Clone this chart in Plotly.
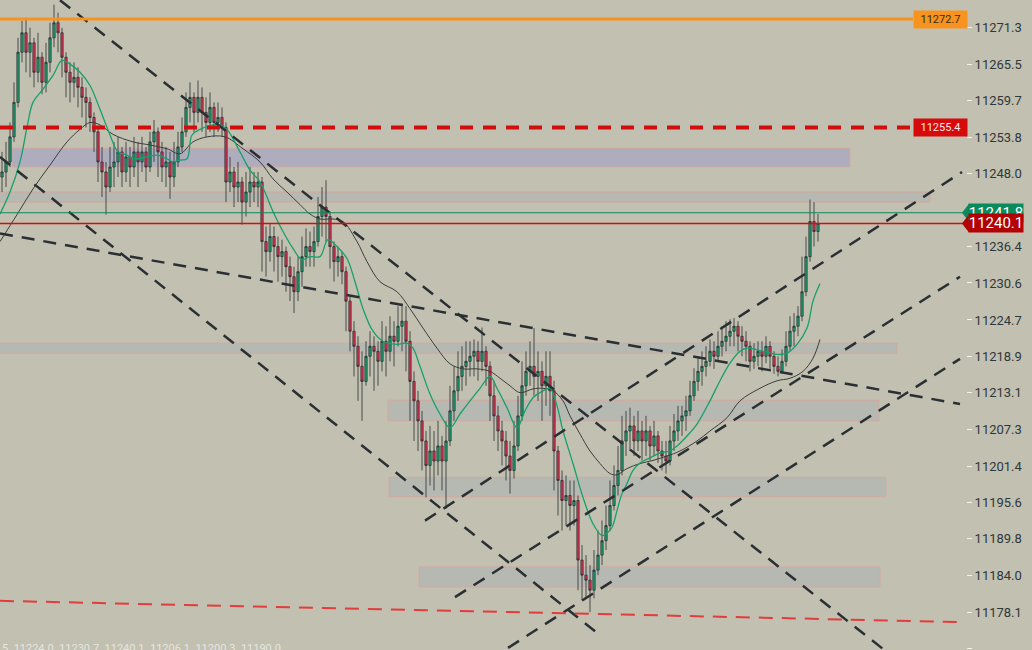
import plotly.graph_objects as go

# ---------------- data ----------------
close = [11248.3, 11249.9, 11253.9, 11259.4, 11267.4, 11270.5, 11267.4, 11268.9, 11264.2, 11266.6,
         11262.6, 11265.8, 11269.7, 11272.1, 11270.5, 11266.6, 11264.2, 11262.6, 11263.4, 11261.8,
         11260.2, 11259.4, 11257.0, 11254.7, 11249.9, 11248.3, 11245.9, 11249.1, 11249.9, 11251.5,
         11248.3, 11250.7, 11249.1, 11251.5, 11249.9, 11251.5, 11249.1, 11253.1, 11254.7, 11251.5,
         11249.1, 11249.9, 11247.5, 11249.9, 11252.3, 11254.7, 11258.6, 11260.2, 11257.8, 11260.2,
         11257.8, 11256.2, 11258.6, 11256.2, 11257.0, 11255.4, 11246.7, 11248.3, 11245.9, 11246.7,
         11243.5, 11245.1, 11246.7, 11245.9, 11246.7, 11237.2, 11235.6, 11238.0, 11236.4, 11234.8,
         11235.6, 11233.2, 11231.6, 11229.2, 11232.4, 11234.8, 11236.4, 11235.6, 11237.2, 11241.2,
         11242.7, 11241.2, 11236.4, 11234.0, 11234.8, 11232.4, 11227.7, 11222.9, 11220.5, 11217.3,
         11214.9, 11218.9, 11220.5, 11219.7, 11218.1, 11221.3, 11219.7, 11222.1, 11221.3, 11223.7,
         11224.5, 11221.3, 11214.9, 11211.8, 11208.6, 11205.4, 11201.5, 11203.8, 11202.2, 11204.6,
         11202.2, 11205.4, 11210.2, 11213.4, 11215.7, 11217.3, 11218.1, 11218.9, 11219.7, 11218.1,
         11219.7, 11217.3, 11212.6, 11209.4, 11207.0, 11205.4, 11203.0, 11200.7, 11204.6, 11209.4,
         11214.2, 11216.5, 11217.3, 11215.7, 11216.5, 11214.2, 11215.7, 11213.4, 11203.8, 11199.1,
         11195.9, 11196.7, 11195.1, 11195.9, 11186.4, 11184.0, 11183.2, 11181.6, 11184.8, 11187.2,
         11189.5, 11191.9, 11195.1, 11198.3, 11200.7, 11205.4, 11207.0, 11207.8, 11205.4, 11207.0,
         11205.4, 11207.0, 11204.6, 11206.2, 11203.8, 11203.0, 11202.2, 11205.4, 11207.0, 11208.6,
         11209.4, 11210.2, 11212.6, 11214.9, 11216.5, 11217.3, 11218.1, 11219.7, 11218.9, 11220.5,
         11221.3, 11222.1, 11222.9, 11223.7, 11222.1, 11221.3, 11220.5, 11218.1, 11218.9, 11219.7,
         11218.9, 11220.5, 11218.9, 11217.3, 11216.5, 11218.1, 11220.5, 11222.9, 11223.7, 11225.3,
         11229.2, 11234.8, 11240.4, 11238.8, 11240.1]

high = [11251.5, 11253.1, 11256.2, 11262.6, 11269.7, 11272.4, 11272.9, 11271.3, 11269.7, 11270.5,
        11267.4, 11268.9, 11272.1, 11275.0, 11273.7, 11271.3, 11267.4, 11265.8, 11265.8, 11265.0,
        11263.4, 11261.8, 11260.2, 11257.8, 11255.4, 11252.3, 11249.9, 11252.3, 11253.1, 11253.9,
        11252.3, 11253.1, 11252.3, 11253.9, 11253.1, 11253.9, 11252.3, 11254.7, 11256.6, 11255.4,
        11253.1, 11252.3, 11251.5, 11253.1, 11254.7, 11257.0, 11261.0, 11262.6, 11261.0, 11262.9,
        11261.8, 11260.2, 11261.0, 11259.4, 11259.4, 11258.6, 11256.2, 11250.7, 11249.1, 11249.9,
        11247.5, 11248.3, 11249.1, 11248.3, 11248.3, 11247.5, 11239.6, 11240.0, 11239.6, 11238.0,
        11237.5, 11236.4, 11234.8, 11233.2, 11234.8, 11238.0, 11239.3, 11238.8, 11239.6, 11244.3,
        11245.9, 11247.0, 11242.0, 11237.2, 11236.4, 11235.6, 11233.2, 11228.5, 11224.5, 11222.1,
        11219.7, 11221.3, 11222.9, 11222.1, 11221.3, 11224.5, 11223.7, 11225.3, 11224.5, 11226.9,
        11227.3, 11226.9, 11222.9, 11216.5, 11213.4, 11210.2, 11207.0, 11207.8, 11207.0, 11208.6,
        11206.2, 11208.6, 11214.2, 11217.3, 11219.7, 11220.5, 11221.3, 11221.3, 11221.6, 11221.3,
        11223.5, 11220.5, 11218.1, 11215.0, 11211.0, 11208.6, 11207.0, 11205.4, 11208.6, 11212.6,
        11218.1, 11219.7, 11221.3, 11223.4, 11219.7, 11218.1, 11219.7, 11219.7, 11215.0, 11204.6,
        11200.7, 11199.9, 11199.1, 11199.1, 11196.7, 11188.8, 11187.2, 11185.6, 11188.0, 11191.1,
        11192.7, 11195.1, 11199.1, 11201.5, 11204.6, 11209.4, 11210.2, 11210.7, 11209.4, 11210.2,
        11208.6, 11209.4, 11207.8, 11208.6, 11207.0, 11205.4, 11205.4, 11207.8, 11209.7, 11211.0,
        11211.0, 11212.6, 11215.0, 11217.0, 11218.9, 11219.7, 11220.5, 11221.6, 11221.3, 11222.9,
        11223.7, 11224.5, 11224.8, 11225.0, 11224.5, 11223.7, 11222.9, 11221.3, 11221.0, 11221.3,
        11221.3, 11222.1, 11221.3, 11219.7, 11218.9, 11220.0, 11222.9, 11225.3, 11225.8, 11226.9,
        11234.8, 11238.0, 11243.9, 11243.5, 11241.6]

low = [11245.1, 11245.9, 11249.1, 11253.1, 11258.6, 11265.8, 11264.2, 11263.4, 11261.8, 11262.6,
       11260.7, 11261.0, 11264.2, 11268.2, 11267.4, 11263.4, 11260.2, 11259.4, 11260.2, 11258.6,
       11257.0, 11255.4, 11254.7, 11251.5, 11246.7, 11244.3, 11241.5, 11245.1, 11245.9, 11247.5,
       11245.9, 11246.7, 11245.9, 11247.5, 11245.9, 11248.3, 11246.7, 11248.3, 11249.9, 11247.5,
       11246.7, 11245.9, 11244.0, 11245.9, 11249.1, 11251.5, 11253.9, 11256.2, 11254.7, 11256.2,
       11254.7, 11253.9, 11254.7, 11253.9, 11254.7, 11253.9, 11243.5, 11245.1, 11242.7, 11243.5,
       11239.9, 11241.2, 11242.7, 11243.5, 11242.7, 11232.4, 11231.6, 11234.0, 11232.4, 11230.8,
       11231.6, 11229.2, 11227.7, 11225.8, 11227.7, 11230.0, 11233.2, 11233.2, 11233.2, 11236.4,
       11238.0, 11237.2, 11232.9, 11230.8, 11231.6, 11230.4, 11222.9, 11219.7, 11215.7, 11211.8,
       11208.6, 11214.2, 11215.7, 11213.4, 11214.2, 11216.5, 11215.7, 11218.1, 11217.3, 11220.5,
       11219.7, 11216.5, 11208.6, 11205.4, 11203.8, 11200.7, 11196.4, 11198.3, 11197.5, 11199.9,
       11197.5, 11194.6, 11204.6, 11208.6, 11211.8, 11213.4, 11214.2, 11215.7, 11215.7, 11215.0,
       11216.5, 11214.2, 11208.6, 11205.4, 11203.8, 11201.5, 11199.1, 11197.0, 11199.4, 11203.8,
       11208.6, 11212.6, 11214.2, 11212.6, 11211.8, 11208.6, 11211.0, 11209.4, 11197.5, 11193.5,
       11191.1, 11191.9, 11191.1, 11191.9, 11181.6, 11180.0, 11180.3, 11178.1, 11180.3, 11184.0,
       11185.6, 11188.0, 11191.1, 11194.3, 11196.7, 11199.9, 11203.0, 11203.8, 11203.0, 11203.8,
       11202.3, 11203.0, 11202.3, 11203.0, 11201.9, 11200.7, 11200.2, 11201.5, 11203.8, 11205.4,
       11206.2, 11207.0, 11209.4, 11211.8, 11213.4, 11214.2, 11215.7, 11217.3, 11216.9, 11218.1,
       11218.9, 11219.7, 11220.5, 11220.5, 11219.7, 11218.9, 11218.1, 11216.5, 11216.9, 11217.3,
       11216.5, 11217.8, 11216.9, 11216.1, 11215.7, 11216.2, 11217.3, 11219.7, 11220.5, 11222.1,
       11224.5, 11228.5, 11234.0, 11236.4, 11237.2]

first_open = 11247.5
open_ = [first_open] + close[:-1]
assert len(close) == len(high) == len(low) == 205
bars = list(range(len(close)))

# fast moving average (green)
ma_fast_x = [-0.5, 2, 4.5, 6.25, 7.75, 10.25, 12.75, 15, 17, 19.5, 22, 24.5, 27, 29, 31.25, 32.75, 36.25,
             38.75, 41.25, 42.75, 44.5, 46.25, 47.5, 49.5, 52.75, 54.5, 56.25, 59.5, 62, 64.5, 67.75,
             70.25, 72.75, 75, 77, 79.5, 81.5, 83.75, 86.25, 88.25, 90.25, 92.75, 95.25, 98.75, 101.25,
             102.75, 104.5, 107, 109.5, 112, 114.5, 117, 119.5, 122, 123.75, 126.25, 128.75, 130.75,
             132.75, 135.25, 137, 138.75, 140.25, 142.75, 145.25, 147.75, 150, 151.25, 152.5, 153.75,
             155, 156.25, 157.75, 159.5, 162, 164.5, 167, 168.75, 171.25, 173.75, 177, 179.5, 182,
             184.5, 186.25, 190.25, 193.75, 196.25, 198.75, 201.25, 202.75, 204.5]
ma_fast_y = [11241.6, 11245.1, 11249.9, 11255.4, 11259.4, 11261.5, 11263.7, 11266.1, 11265.5, 11264.2,
             11262.1, 11258.3, 11254.2, 11251.5, 11251.0, 11250.4, 11250.7, 11251.0, 11250.4, 11249.9,
             11250.2, 11250.4, 11254.2, 11255.1, 11255.8, 11255.8, 11255.1, 11251.5, 11248.6, 11246.7,
             11242.0, 11238.8, 11236.1, 11234.3, 11234.8, 11234.8, 11237.5, 11236.4, 11234.5, 11230.8,
             11226.5, 11222.9, 11221.3, 11220.8, 11221.0, 11220.2, 11217.3, 11212.9, 11209.7, 11207.5,
             11209.7, 11211.8, 11213.8, 11215.7, 11213.8, 11210.7, 11207.5, 11210.2, 11212.3, 11213.4,
             11213.8, 11211.0, 11207.0, 11201.8, 11196.4, 11192.2, 11190.3, 11190.7, 11191.6, 11194.3,
             11197.0, 11198.6, 11200.7, 11201.9, 11202.7, 11203.5, 11203.8, 11204.6, 11206.2, 11208.1,
             11211.8, 11215.0, 11217.8, 11219.7, 11220.2, 11219.7, 11219.2, 11219.4, 11220.8, 11223.4,
             11227.7, 11230.5]

# slow moving average (dark)
ma_slow_x = [-0.5, 3.75, 7.75, 12, 16.25, 19.5, 22, 24.5, 27.75, 32.75, 37, 41.25, 44.5, 47.75, 51.25,
             55.75, 60.25, 64.5, 67.75, 71.25, 74.5, 77, 79.5, 82.75, 85.25, 88.75, 91.25, 94.5, 98.75,
             102, 105.25, 108.75, 112, 115.25, 118.75, 122, 124.5, 127, 129.5, 132.75, 135.25, 137.75,
             140.25, 142, 144.5, 147, 149.5, 152, 153.75, 156.25, 159.5, 162.75, 166.25, 169.5, 173.75,
             177, 181.25, 184.5, 189.5, 193.75, 197, 200.25, 202.75, 204.5]
ma_slow_y = [11237.2, 11241.5, 11245.6, 11249.4, 11253.1, 11255.1, 11256.2, 11255.8, 11254.3, 11253.1,
             11252.6, 11252.0, 11251.2, 11253.1, 11253.9, 11253.9, 11252.0, 11249.9, 11247.2, 11245.1,
             11243.1, 11241.6, 11240.8, 11240.8, 11240.4, 11237.2, 11234.0, 11230.8, 11229.2, 11226.5,
             11223.4, 11220.2, 11217.7, 11216.9, 11216.9, 11216.5, 11215.4, 11214.2, 11213.1, 11213.7,
             11213.8, 11213.4, 11211.8, 11209.4, 11206.5, 11203.8, 11201.8, 11200.2, 11200.0, 11201.0,
             11201.8, 11202.3, 11203.0, 11203.8, 11205.4, 11207.0, 11209.1, 11211.8, 11213.8, 11215.0,
             11215.4, 11216.5, 11218.6, 11221.6]

# trend lines (bar index / price endpoints)
trend_x0 = [14.5, -0.5, -0.5, 105.75, 113.25, 126.5]
trend_y0 = [11275.7, 11250.7, 11238.5, 11192.7, 11180.5, 11172.4]
trend_x1 = [220.5, 148.75, 239.5, 240.0, 239.5, 239.5]
trend_y1 = [11172.1, 11174.8, 11211.3, 11248.3, 11231.6, 11218.5]

support_x = [-0.5, 240.75]
support_y = [11179.9, 11176.5]

# zones
zone_x0 = [2.5, -1, -1, 96.5, 96.75, 104.25]
zone_x1 = [212, 232, 223.75, 219.25, 221, 219.5]
zone_top = [11252.1, 11245.1, 11221.0, 11211.9, 11199.6, 11185.3]
zone_bot = [11249.1, 11243.5, 11219.4, 11208.6, 11196.5, 11182.1]
zone_fill = ['#aeadbe', '#b6b9b2', '#b6b9b2', '#b6b9b2', '#b6b9b2', '#b6b9b2']

# levels
level_orange = 11272.7
level_red = 11255.4
last_green = 11241.8
last_red = 11240.1
level_end = 227.75

tick_vals = [11271.3, 11265.5, 11259.7, 11253.8, 11248.0, 11242.2, 11236.4, 11230.6, 11224.7,
             11218.9, 11213.1, 11207.3, 11201.4, 11195.6, 11189.8, 11184.0, 11178.1, 11172.3]
tick_text = ['%.1f' % v for v in tick_vals]

info_text = "5  11224.0  11230.7  11240.1  11206.1  11200.3  11190.0"

BG = '#c2c0b0'
DARK = '#2a2f34'

fig = go.Figure()

fig.add_trace(go.Candlestick(
    x=bars, open=open_, high=high, low=low, close=close,
    increasing=dict(line=dict(color=DARK, width=0.8), fillcolor='#17a86e'),
    decreasing=dict(line=dict(color=DARK, width=0.8), fillcolor='#ec2f4c'),
    whiskerwidth=0, showlegend=False, hoverinfo='skip'))

fig.add_trace(go.Scatter(x=ma_slow_x, y=ma_slow_y, mode='lines',
                         line=dict(color='#3b3d3d', width=1, shape='spline'),
                         showlegend=False, hoverinfo='skip'))
fig.add_trace(go.Scatter(x=ma_fast_x, y=ma_fast_y, mode='lines',
                         line=dict(color='#16a06a', width=1.3, shape='spline'),
                         showlegend=False, hoverinfo='skip'))

for x0, y0, x1, y1 in zip(trend_x0, trend_y0, trend_x1, trend_y1):
    fig.add_trace(go.Scatter(x=[x0, x1], y=[y0, y1], mode='lines',
                             line=dict(color=DARK, width=2.5, dash='13px,9px'),
                             showlegend=False, hoverinfo='skip'))

fig.add_trace(go.Scatter(x=support_x, y=support_y, mode='lines',
                         line=dict(color='#e23c3c', width=2, dash='14px,9px'),
                         showlegend=False, hoverinfo='skip'))

# horizontal levels
fig.add_trace(go.Scatter(x=[-0.5, level_end], y=[level_orange, level_orange], mode='lines',
                         line=dict(color='#f7921c', width=3), showlegend=False, hoverinfo='skip'))
fig.add_trace(go.Scatter(x=[-0.5, level_end], y=[level_red, level_red], mode='lines',
                         line=dict(color='#d20d0d', width=4, dash='13px,10px'),
                         showlegend=False, hoverinfo='skip'))
fig.add_trace(go.Scatter(x=[-0.5, 241], y=[last_green, last_green], mode='lines',
                         line=dict(color='#0b8a5a', width=1.2), showlegend=False, hoverinfo='skip'))
fig.add_trace(go.Scatter(x=[-0.5, 241], y=[last_red, last_red], mode='lines',
                         line=dict(color='#e00808', width=1.5), showlegend=False, hoverinfo='skip'))

shapes = []
for x0, x1, t, b, c in zip(zone_x0, zone_x1, zone_top, zone_bot, zone_fill):
    shapes.append(dict(type='rect', xref='x', yref='y', x0=x0, x1=x1, y0=b, y1=t,
                       fillcolor=c, line=dict(color='#d3a89f', width=1), layer='below'))

# arrow tips of the last-price tags
W = 966.0
def px(v):
    return v / W

dy = 9 / 6.27
for price, col in [(last_green, '#0b8a5c'), (last_red, '#b30000')]:
    path = 'M %f,%f L %f,%f L %f,%f Z' % (px(962), price, px(969), price + dy, px(969), price - dy)
    shapes.append(dict(type='path', xref='paper', yref='y', path=path, fillcolor=col,
                       line=dict(width=0), layer='above'))

annotations = [
    dict(xref='paper', yref='y', x=px(913), y=level_orange, xanchor='left', yanchor='middle',
         text='11272.7', showarrow=False, bgcolor='#f7931e', width=51, height=15, borderpad=1,
         font=dict(family='Roboto', size=11, color='#3a2a14')),
    dict(xref='paper', yref='y', x=px(913), y=level_red, xanchor='left', yanchor='middle',
         text='11255.4', showarrow=False, bgcolor='#d60a0a', width=51, height=15, borderpad=1,
         font=dict(family='Roboto', size=11, color='#ffe6e6')),
    dict(xref='paper', yref='y', x=px(968), y=last_green, xanchor='left', yanchor='middle',
         text='11241.8', showarrow=False, bgcolor='#0b8a5c', width=54, height=18, borderpad=0,
         font=dict(family='Roboto', size=15, color='#ffffff')),
    dict(xref='paper', yref='y', x=px(968), y=last_red, xanchor='left', yanchor='middle',
         text='11240.1', showarrow=False, bgcolor='#b30000', width=54, height=18, borderpad=0,
         font=dict(family='Roboto', size=15, color='#ffffff')),
    dict(xref='paper', yref='paper', x=0, y=(650 - 640) / 650.0, xanchor='left', yanchor='top',
         text=info_text, showarrow=False,
         font=dict(family='Roboto', size=11, color='#e6e6e0')),
]

fig.update_layout(
    width=1032, height=650,
    margin=dict(l=0, r=66, t=0, b=0),
    paper_bgcolor=BG, plot_bgcolor=BG,
    boxgap=0.2,
    hovermode=False,
    shapes=shapes, annotations=annotations,
    xaxis=dict(range=[-0.5, 241], visible=False, rangeslider=dict(visible=False),
               showgrid=False, zeroline=False),
    yaxis=dict(range=[11172.06, 11275.73], side='right', showgrid=False, zeroline=False,
               tickvals=tick_vals, ticktext=tick_text, ticks='outside', ticklen=5,
               tickcolor='#f4f4f0', tickwidth=1,
               tickfont=dict(family='Roboto', size=13, color='#2f373b'), showline=False),
    font=dict(family='Roboto'),
)

fig.write_html('out.html', config={'displayModeBar': False},
               post_script="document.body.style.margin='0';document.body.style.background='%s';" % BG)
